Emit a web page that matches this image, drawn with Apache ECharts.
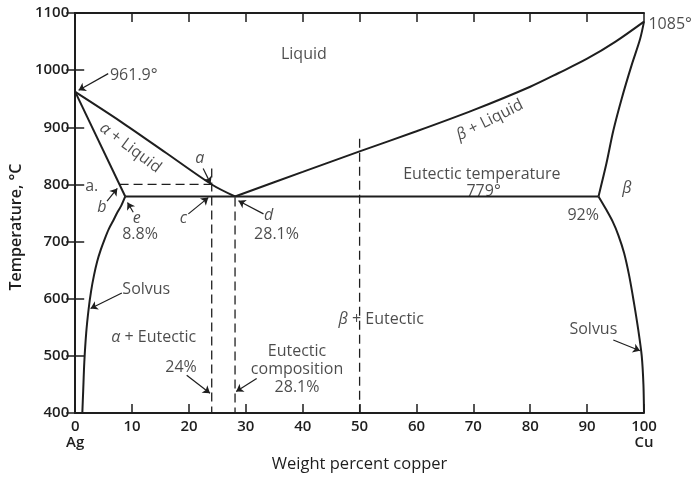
<!DOCTYPE html>
<html><head><meta charset="utf-8">
<script src="https://cdn.jsdelivr.net/npm/echarts/dist/echarts.min.js"></script>
<style>html,body{margin:0;padding:0;background:#fff;overflow:hidden}#c{width:700px;height:478px}</style>
</head><body><div id="c"></div>
<script>
// ---- data (weight % Cu, temperature °C) ----
const xTickNames = {0: 'Ag', 100: 'Cu'};
const leftLiquidus = [[0,961.9],[8,910],[16,855],[24,800],[28.1,779]];
const leftSolidus = [[0,961.9],[8.8,779]];
const eutecticLine = [[8.8,779],[92,779]];
const leftSolvus = [[8.8,779],[8.1,763],[7.4,751],[6.7,737],[5.9,722],[5.2,705],[4.5,686],[3.85,665],[3.3,641],[2.8,614],[2.37,583],[1.93,540],[1.6,489],[1.4,438],[1.25,400]];
const rightLiquidus = [[28.1,779],[40,822],[50,858],[60,893],[70,930],[80,971],[85,995],[90,1020],[95,1050],[100,1085]];
const rightSolidus = [[92,779],[93.4,837],[94.6,894],[96.1,951],[97.8,1008],[99.3,1054],[100,1085]];
const rightSolvus = [[92,779],[93.3,757],[94.5,735],[95.5,711],[96.5,680],[97.4,640],[98.2,595],[99.0,545],[99.6,500],[99.9,450],[100,400]];
const dash800 = [[7.8,800],[24,800]];
const dash24 = [[24,828],[24,400]];
const dash281 = [[28.1,777],[28.1,400]];
const dash50 = [[50,880],[50,400]];

// ---- annotation placement (data coordinates) ----
const labels = [
  {t:'Liquid', x:40.2, y:1028},
  {t:'961.9°', x:10.3, y:990.5},
  {t:'{i|α} + Liquid', x:9.7, y:864, r:-37},
  {t:'{i|a}', x:21.9, y:845.5},
  {t:'a.', x:2.9, y:796},
  {t:'{i|b}', x:4.7, y:760},
  {t:'{i|e}', x:10.8, y:740.6},
  {t:'8.8%', x:11.4, y:713},
  {t:'{i|c}', x:19.0, y:740},
  {t:'{i|d}', x:34.0, y:745.7},
  {t:'28.1%', x:35.4, y:713},
  {t:'Eutectic temperature', x:71.5, y:818},
  {t:'779°', x:71.8, y:788},
  {t:'{i|β} + Liquid', x:72.9, y:912.6, r:26.6},
  {t:'1085°', x:104.6, y:1079.5},
  {t:'{i|β}', x:97.0, y:792.5},
  {t:'92%', x:89.3, y:745.7},
  {t:'Solvus', x:12.5, y:616},
  {t:'{i|α} + Eutectic', x:13.8, y:533},
  {t:'24%', x:18.6, y:479.3},
  {t:'Eutectic\ncomposition\n28.1%', x:39.0, y:476},
  {t:'{i|β} + Eutectic', x:53.8, y:563.5},
  {t:'Solvus', x:91.1, y:546}
];
const arrows = [
  {from:[5.8,993.9], to:[0.6,964.8], c:-0.3},
  {from:[22.5,827.9], to:[23.8,801.5], c:0.3},
  {from:[5.6,771], to:[7.4,793], c:0.15},
  {from:[10.2,751.4], to:[9.2,768.5], c:0},
  {from:[19.9,748.6], to:[23.4,777], c:-0.3},
  {from:[33.1,748.6], to:[28.7,771.4], c:0.3},
  {from:[8.2,610], to:[2.7,583], c:0.3},
  {from:[19.6,466.2], to:[23.7,434.8], c:-0.3},
  {from:[31.9,460.4], to:[28.3,437.7], c:0.3},
  {from:[94.6,527.9], to:[99.3,509], c:-0.3}
];

const INK = '#1e1e1e';
const FONT = 'Open Sans';
const chart = echarts.init(document.getElementById('c'), null, {width:700, height:478});

function curve(data, smooth) {
  return {type:'line', data, smooth: smooth ? 0.3 : false, symbol:'none', clip:false, silent:true,
    lineStyle:{color:INK, width:2}, z:3};
}
function dashed(data) {
  return {type:'line', data, symbol:'none', silent:true,
    lineStyle:{color:INK, width:1.3, type:[9,5]}, z:2};
}
const axisLineStyle = {show:true, lineStyle:{color:INK, width:2}};
const tick = {show:true, inside:true, length:9, lineStyle:{color:INK, width:1.5}};

const eut = curve(eutecticLine, false);
eut.markLine = {
  silent:true, animation:false, symbol:['none','arrow'], symbolSize:7,
  label:{show:false}, emphasis:{disabled:true},
  lineStyle:{color:INK, width:1.2, type:'solid'},
  data: arrows.map(a => [{coord:a.from, lineStyle:{curveness:a.c}}, {coord:a.to}])
};

chart.setOption({
  animation:false,
  backgroundColor:'#fff',
  grid:{left:75, width:569, top:13, height:409},
  xAxis:[
    {type:'value', min:0, max:100, interval:10, position:'bottom',
     axisLine:axisLineStyle, axisTick:tick, splitLine:{show:false},
     axisLabel:{color:INK, fontSize:15, fontWeight:600, fontFamily:FONT, margin:6, lineHeight:16,
       formatter: v => xTickNames[v] ? v + '\n' + xTickNames[v] : String(v)},
     name:'Weight percent copper', nameLocation:'middle', nameGap:37,
     nameTextStyle:{color:INK, fontSize:16.5, fontFamily:FONT, fontWeight:500}},
    {type:'value', min:0, max:100, interval:10, position:'top',
     axisLine:axisLineStyle, axisTick:tick, axisLabel:{show:false}, splitLine:{show:false}}
  ],
  yAxis:[
    {type:'value', min:400, max:1100, interval:100, position:'left',
     axisLine:axisLineStyle, axisTick:tick, splitLine:{show:false},
     axisLabel:{color:INK, fontSize:15, fontWeight:600, fontFamily:FONT, margin:6, formatter: v => String(v)},
     name:'Temperature, °C', nameLocation:'middle', nameGap:48,
     nameTextStyle:{color:INK, fontSize:16, fontFamily:FONT, fontWeight:600, padding:[0,28,0,0]}},
    {type:'value', min:400, max:1100, interval:100, position:'right',
     axisLine:axisLineStyle, axisTick:tick, axisLabel:{show:false}, splitLine:{show:false}}
  ],
  series:[
    curve(leftLiquidus, true),
    curve(leftSolidus, false),
    eut,
    curve(leftSolvus, true),
    curve(rightLiquidus, true),
    curve(rightSolidus, true),
    curve(rightSolvus, true),
    dashed(dash800), dashed(dash24), dashed(dash281), dashed(dash50),
    {type:'scatter', silent:true, clip:false, symbolSize:1, z:5,
     itemStyle:{color:'rgba(0,0,0,0)'},
     label:{show:true, position:'inside', color:INK, fontSize:16, fontWeight:500, fontFamily:FONT, lineHeight:18, align:'center',
       rich:{i:{fontStyle:'italic', fontSize:16, fontWeight:500, fontFamily:FONT, color:INK}}},
     data: labels.map(l => ({value:[l.x, l.y], label:{formatter:l.t, rotate:l.r || 0}}))}
  ]
});
</script></body></html>
